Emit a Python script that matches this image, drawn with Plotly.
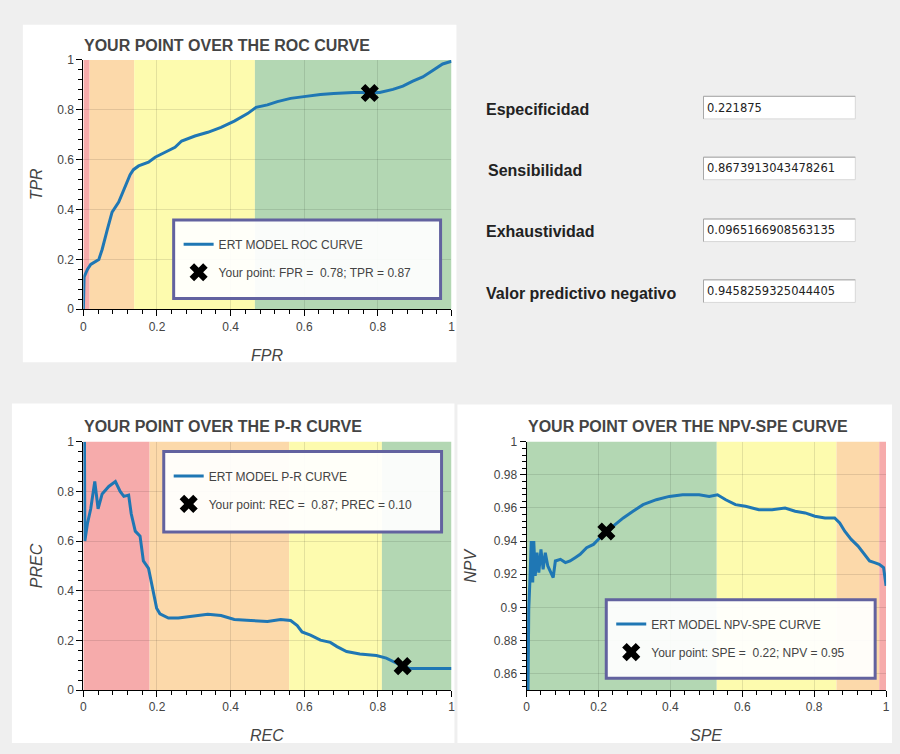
import plotly.graph_objects as go

# ---- model operating point -------------------------------------------------
specificity = 0.221875
sensitivity = 0.8673913043478261
precision_pt = 0.0965166908563135
npv_pt = 0.9458259325044405

field_labels = ["Especificidad", "Sensibilidad", "Exhaustividad", "Valor predictivo negativo"]
field_values = ["0.221875", "0.8673913043478261", "0.0965166908563135", "0.9458259325044405"]

# ---- ROC curve -------------------------------------------------------------
roc_fpr = [0, 0.002, 0.011, 0.02, 0.042, 0.051, 0.065, 0.078, 0.096, 0.114, 0.127, 0.136,
           0.15, 0.177, 0.195, 0.222, 0.249, 0.267, 0.303, 0.338, 0.374, 0.41, 0.446, 0.469,
           0.5, 0.527, 0.563, 0.599, 0.644, 0.68, 0.733, 0.778, 0.805, 0.841, 0.868, 0.895,
           0.922, 0.949, 0.976, 1.0]
roc_tpr = [0, 0.13, 0.16, 0.18, 0.2, 0.24, 0.32, 0.39, 0.43, 0.49, 0.54, 0.56,
           0.575, 0.59, 0.61, 0.63, 0.65, 0.675, 0.695, 0.71, 0.73, 0.755, 0.785, 0.81,
           0.82, 0.833, 0.846, 0.853, 0.862, 0.866, 0.87, 0.87, 0.87, 0.882, 0.895, 0.915,
           0.932, 0.958, 0.984, 0.995]

# ---- precision-recall curve ------------------------------------------------
pr_rec = [0.003, 0.004, 0.011, 0.02, 0.031, 0.04, 0.051, 0.069, 0.087, 0.1, 0.11, 0.123,
          0.13, 0.141, 0.154, 0.163, 0.177, 0.186, 0.199, 0.208, 0.231, 0.258, 0.303, 0.338,
          0.374, 0.41, 0.455, 0.5, 0.536, 0.563, 0.581, 0.594, 0.617, 0.644, 0.671, 0.689,
          0.715, 0.751, 0.796, 0.823, 0.85, 0.866, 0.886, 1.0]
pr_prec = [1.0, 0.6, 0.67, 0.73, 0.84, 0.73, 0.79, 0.82, 0.84, 0.8, 0.78, 0.785,
           0.71, 0.64, 0.62, 0.52, 0.49, 0.43, 0.33, 0.307, 0.29, 0.29, 0.298, 0.305,
           0.3, 0.284, 0.28, 0.276, 0.284, 0.28, 0.26, 0.234, 0.221, 0.201, 0.192, 0.175,
           0.155, 0.145, 0.139, 0.129, 0.109, 0.096, 0.087, 0.087]

# ---- NPV-specificity curve -------------------------------------------------
npv_spe = [0.004, 0.006, 0.009, 0.013, 0.017, 0.02, 0.024, 0.029, 0.034, 0.04, 0.046, 0.052,
           0.059, 0.066, 0.074, 0.08, 0.094, 0.108, 0.121, 0.135, 0.149, 0.167, 0.186, 0.204,
           0.223, 0.241, 0.269, 0.296, 0.324, 0.361, 0.397, 0.434, 0.48, 0.508, 0.531, 0.554,
           0.581, 0.609, 0.646, 0.683, 0.719, 0.747, 0.775, 0.802, 0.83, 0.857, 0.871, 0.885,
           0.903, 0.922, 0.94, 0.954, 0.968, 0.981, 0.993, 1.0]
npv_val = [0.85, 0.899, 0.915, 0.94, 0.915, 0.94, 0.919, 0.933, 0.921, 0.935, 0.923, 0.933,
           0.925, 0.922, 0.918, 0.928, 0.929, 0.927, 0.928, 0.93, 0.932, 0.936, 0.938, 0.942,
           0.945, 0.949, 0.954, 0.958, 0.962, 0.965, 0.967, 0.968, 0.968, 0.967, 0.968, 0.965,
           0.962, 0.961, 0.959, 0.959, 0.96, 0.958, 0.957, 0.955, 0.954, 0.954, 0.951, 0.946,
           0.941, 0.937, 0.932, 0.928, 0.927, 0.926, 0.924, 0.913]

# ---- quality bands (edges along the x axis) --------------------------------
roc_band_edges = [0, 0.017, 0.138, 0.466, 1]
pr_band_edges = [0, 0.18, 0.559, 0.811, 1]
npv_band_edges = [0, 0.529, 0.862, 0.981, 1]
RED, ORANGE, YELLOW, GREEN = "#f6abab", "#fcd9aa", "#fdfbae", "#b3d7b3"
roc_band_colors = [RED, ORANGE, YELLOW, GREEN]
pr_band_colors = [RED, ORANGE, YELLOW, GREEN]
npv_band_colors = [GREEN, YELLOW, ORANGE, RED]

W, H = 900, 754
BLUE = "#1f77b4"
TXT = "#444444"
FONT = "Liberation Sans, Arial, sans-serif"


def px(x):
    return x / W


def py(y):
    return 1 - y / H


fig = go.Figure()

# white card panels behind each chart
for x0, y0, x1, y1 in [(20, 18, 457, 362), (9, 404, 455, 750), (458, 405, 896, 750)]:
    fig.add_shape(type="rect", xref="paper", yref="paper", x0=px(x0), x1=px(x1),
                  y0=py(y1), y1=py(y0), fillcolor="white", line_width=0, layer="below")


def add_bands(edges, colors, xref, yref):
    for i, c in enumerate(colors):
        fig.add_shape(type="rect", xref=xref, yref=yref + " domain", x0=edges[i], x1=edges[i + 1],
                      y0=0, y1=1, fillcolor=c, line_width=0, layer="below")


add_bands(roc_band_edges, roc_band_colors, "x", "y")
add_bands(pr_band_edges, pr_band_colors, "x2", "y2")
add_bands(npv_band_edges, npv_band_colors, "x3", "y3")

fpr_pt = 1 - specificity

fig.add_trace(go.Scatter(x=roc_fpr, y=roc_tpr, mode="lines", xaxis="x", yaxis="y",
                         line=dict(color=BLUE, width=3), name="ERT MODEL ROC CURVE",
                         legend="legend", legendgroup="a"))
fig.add_trace(go.Scatter(x=[fpr_pt], y=[sensitivity], mode="markers", xaxis="x", yaxis="y",
                         marker=dict(symbol="x", size=16, color="black"),
                         name="Your point: FPR = %5.2f; TPR = %.2f" % (fpr_pt, sensitivity),
                         legend="legend", legendgroup="b"))

fig.add_trace(go.Scatter(x=pr_rec, y=pr_prec, mode="lines", xaxis="x2", yaxis="y2",
                         line=dict(color=BLUE, width=3), name="ERT MODEL P-R CURVE",
                         legend="legend2", legendgroup="c"))
fig.add_trace(go.Scatter(x=[sensitivity], y=[precision_pt], mode="markers", xaxis="x2", yaxis="y2",
                         marker=dict(symbol="x", size=16, color="black"),
                         name="Your point: REC = %5.2f; PREC = %.2f" % (sensitivity, precision_pt),
                         legend="legend2", legendgroup="d"))

fig.add_trace(go.Scatter(x=npv_spe, y=npv_val, mode="lines", xaxis="x3", yaxis="y3",
                         line=dict(color=BLUE, width=3), name="ERT MODEL NPV-SPE CURVE",
                         legend="legend3", legendgroup="e"))
fig.add_trace(go.Scatter(x=[specificity], y=[npv_pt], mode="markers", xaxis="x3", yaxis="y3",
                         marker=dict(symbol="x", size=16, color="black"),
                         name="Your point: SPE = %5.2f; NPV = %.2f" % (specificity, npv_pt),
                         legend="legend3", legendgroup="f"))


def axis(domain, anchor, rng, dtick, minor_dtick):
    return dict(domain=domain, anchor=anchor, range=rng, dtick=dtick, tick0=0,
                showline=True, linecolor="black", linewidth=1,
                ticks="outside", ticklen=6, tickcolor="black", tickwidth=1,
                minor=dict(ticks="outside", ticklen=4, dtick=minor_dtick, tickcolor="black",
                           showgrid=False),
                showgrid=True, gridcolor="rgba(0,0,0,0.1)", gridwidth=1,
                zeroline=False, tickfont=dict(family=FONT, size=12, color=TXT),
                fixedrange=True)


x_left = [px(81), px(452)]
x_right = [px(527.7), px(890)]
y_top = [py(308), py(54)]
y_bot = [py(696), py(443)]

# legend frames (left, top, right, bottom in px)
legend_frames = [(172, 217, 441, 297), (162, 453, 442, 535), (608, 604, 879, 684)]


def legend_box(frame):
    x0, y0, _, _ = frame
    return dict(x=px(x0 + 5), y=py(y0 + 10), xanchor="left", yanchor="top",
                bgcolor="rgba(0,0,0,0)", borderwidth=0,
                font=dict(family=FONT, size=12, color=TXT), traceorder="grouped",
                tracegroupgap=9, itemwidth=30)


for x0, y0, x1, y1 in legend_frames:
    fig.add_shape(type="rect", xref="paper", yref="paper", x0=px(x0), x1=px(x1),
                  y0=py(y1), y1=py(y0), fillcolor="rgba(255,255,255,0.93)",
                  line=dict(color="#62629f", width=3), layer="above")

fig.update_layout(
    width=W, height=H, margin=dict(l=0, r=0, t=0, b=0),
    paper_bgcolor="#efefef", plot_bgcolor="white",
    showlegend=True,
    xaxis=axis(x_left, "y", [0, 1], 0.2, 0.04),
    yaxis=axis(y_top, "x", [0, 1], 0.2, 0.04),
    xaxis2=axis(x_left, "y2", [0, 1], 0.2, 0.04),
    yaxis2=axis(y_bot, "x2", [0, 1], 0.2, 0.04),
    xaxis3=axis(x_right, "y3", [0, 1], 0.2, 0.04),
    yaxis3=axis(y_bot, "x3", [0.85, 1], 0.02, 0.004),
    legend=legend_box(legend_frames[0]),
    legend2=legend_box(legend_frames[1]),
    legend3=legend_box(legend_frames[2]),
)

# panel titles
for text, x, y in [("YOUR POINT OVER THE ROC CURVE", 80, 39),
                   ("YOUR POINT OVER THE P-R CURVE", 80, 427),
                   ("YOUR POINT OVER THE NPV-SPE CURVE", 527, 427)]:
    fig.add_annotation(text="<b>%s</b>" % text, xref="paper", yref="paper", x=px(x), y=py(y),
                       xanchor="left", yanchor="middle", showarrow=False,
                       font=dict(family=FONT, size=16, color=TXT))

# axis titles
for text, x, y, ang in [("FPR", 266, 355, 0), ("TPR", 34, 181, -90),
                        ("REC", 266, 742, 0), ("PREC", 34, 569, -90),
                        ("SPE", 709, 742, 0), ("NPV", 471, 569, -90)]:
    fig.add_annotation(text="<i>%s</i>" % text, xref="paper", yref="paper", x=px(x), y=py(y),
                       xanchor="center", yanchor="middle", showarrow=False, textangle=ang,
                       font=dict(family=FONT, size=16, color=TXT))

# metric read-outs: label + text field
label_y = [104, 167, 229, 292]
label_x = [485, 487, 485, 485]
box_top = [91, 153, 216, 278]
for lab, val, lx, ly, bt in zip(field_labels, field_values, label_x, label_y, box_top):
    fig.add_annotation(text="<b>%s</b>" % lab, xref="paper", yref="paper", x=px(lx), y=py(ly),
                       xanchor="left", yanchor="middle", showarrow=False,
                       font=dict(family=FONT, size=16, color="#222222"))
    fig.add_shape(type="rect", xref="paper", yref="paper", x0=px(706), x1=px(859),
                  y0=py(bt + 23), y1=py(bt), fillcolor="white",
                  line=dict(color="#d8d8d8", width=1), layer="above")
    fig.add_shape(type="path", xref="paper", yref="paper",
                  path="M %f %f L %f %f L %f %f" % (px(706), py(bt + 23), px(706), py(bt), px(859), py(bt)),
                  line=dict(color="#a8a8a8", width=1), layer="above")
    fig.add_annotation(text=val, xref="paper", yref="paper", x=px(708), y=py(bt + 11.5),
                       xanchor="left", yanchor="middle", showarrow=False,
                       font=dict(family="DejaVu Sans, sans-serif", size=11.5, color="#222222"))

fig.write_html("out.html")
